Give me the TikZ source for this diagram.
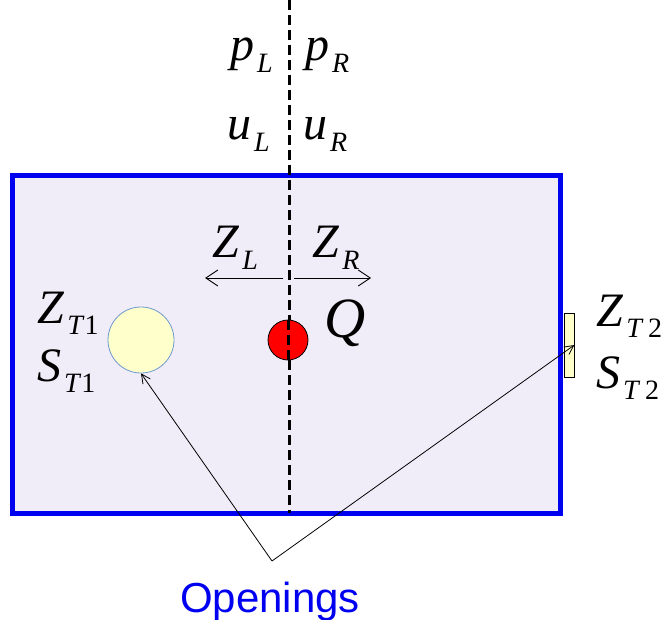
\documentclass[tikz,border=0pt]{standalone}
\usepackage{fontspec}
\setmainfont{Liberation Serif}
\newfontfamily\labelsans{Liberation Sans}
\usepackage{xcolor}
\definecolor{wallblue}{HTML}{0000F0}
\definecolor{roomfill}{HTML}{F1EDF8}
\definecolor{ventyellow}{HTML}{FFFFCC}
\definecolor{ventedge}{HTML}{6C9BD2}
\definecolor{firered}{HTML}{FF0000}
\usepackage{tikz}
\usetikzlibrary{positioning,arrows.meta}
\newcommand{\qsub}[2]{\textit{#1}\kern3pt\raisebox{-0.23em}{\fontsize{28}{28}\selectfont #2}}

\begin{document}
\begin{tikzpicture}[x=1pt, y=-1pt, font=\fontsize{48}{48}\selectfont,
  qlabel/.style={inner sep=0pt, anchor=base west},
  flowarrow/.style={line width=0.9pt, -{Straight Barb[length=12pt,width=16pt]}},
  pointer/.style={line width=0.8pt, -{Straight Barb[length=9pt,width=9pt]}}]
  \useasboundingbox (0,0) rectangle (666,620);
  % Room
  \draw[wallblue, fill=roomfill, line width=5pt] (12,176) rectangle (560,513);
  % Openings
  \node[circle, draw=ventedge, fill=ventyellow, line width=0.8pt,
    minimum size=66pt, inner sep=0pt] (t1) at (141,340) {};
  \node[rectangle, draw=black, fill=ventyellow, line width=0.8pt,
    minimum width=10pt, minimum height=64pt, inner sep=0pt] (t2) at (569,345) {};
  % Interface
  \coordinate (top) at (289,0);
  \coordinate (bottom) at (289,513);
  \draw[line width=3pt, dash pattern=on 10pt off 5pt] (top) -- (bottom);
  \node[qlabel] (pL) at (230,61) {\qsub{p}{\textit{L}}};
  \node[qlabel] (pR) at (305,61) {\qsub{p}{\textit{R}}};
  \node[qlabel] (uL) at (227,140) {\qsub{u}{\textit{L}}};
  \node[qlabel] (uR) at (303,140) {\qsub{u}{\textit{R}}};
  % Impedances
  \node[qlabel] (zL) at (212,258) {\qsub{Z}{\textit{L}}};
  \node[qlabel] (zR) at (312,258) {\qsub{Z}{\textit{R}}};
  \coordinate (cL) at (283,278);
  \coordinate (cR) at (294,278);
  \coordinate (eL) at (205,278);
  \coordinate (eR) at (371,278);
  \draw[flowarrow] (cL) -- (eL);
  \draw[flowarrow] (cR) -- (eR);
  % Source
  \node[circle, draw=black, fill=firered, line width=0.8pt,
    minimum size=40pt, inner sep=0pt] (src) at (288,340) {};
  \draw[line width=3pt, dash pattern=on 10pt off 5pt] (src.north) -- (src.south);
  \node[qlabel, font=\fontsize{57}{57}\selectfont] (q) at (324,337) {\textit{Q}};
  \node[qlabel] (zT1) at (37,323) {\qsub{Z}{\textit{T}1}};
  \node[qlabel] (sT1) at (37,381) {\qsub{S}{\textit{T}1}};
  \node[qlabel] (zT2) at (596,326) {\qsub{Z}{\textit{T}\,2}};
  \node[qlabel] (sT2) at (596,388) {\qsub{S}{\textit{T}\,2}};
  % Pointers
  \node[font=\labelsans\fontsize{42}{42}\selectfont, text=wallblue,
    inner sep=0pt, anchor=base] (open) at (270,612) {Openings};
  \coordinate (apex) at (272,561);
  \draw[pointer] (apex) -- (t1.south);
  \draw[pointer] (apex) -- (t2.east);
\end{tikzpicture}
\end{document}
